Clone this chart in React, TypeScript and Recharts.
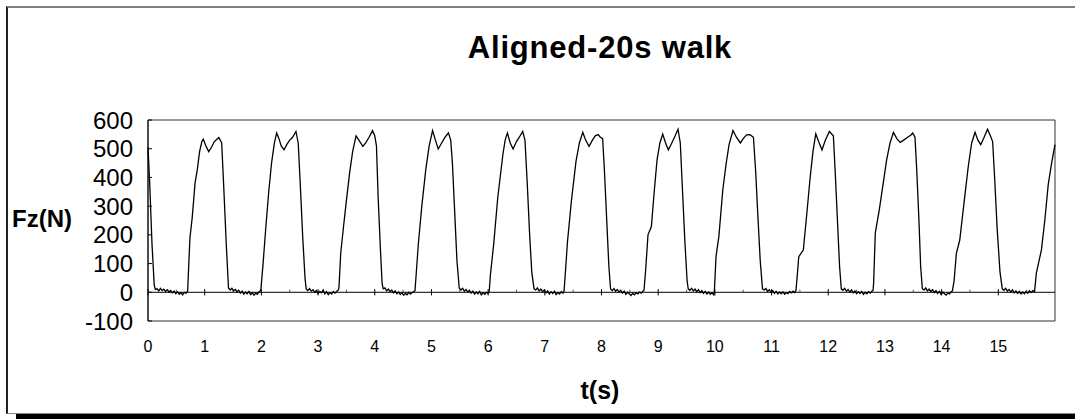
import { LineChart, Line, XAxis, YAxis, ReferenceLine, ReferenceArea } from 'recharts';

// time stamps (s)
const timeSec = [
  0.0, 0.03, 0.07, 0.11, 0.13, 0.16, 0.19, 0.22, 0.25, 0.28, 0.31, 0.34, 0.37, 0.4, 0.43, 0.46, 0.49, 0.52, 0.55, 0.58, 0.61, 0.64, 0.67, 0.7,
  0.72, 0.74, 0.78, 0.83, 0.87, 0.91, 0.95, 0.975, 1.02, 1.07, 1.12, 1.17, 1.21, 1.25, 1.3, 1.34, 1.38, 1.42,
  1.45, 1.48, 1.51, 1.54, 1.57, 1.6, 1.63, 1.66, 1.69, 1.72, 1.75, 1.78, 1.81, 1.84, 1.87, 1.9, 1.93, 1.96, 1.99,
  2.0, 2.03, 2.08, 2.13, 2.18, 2.23, 2.27, 2.31, 2.35, 2.4, 2.45, 2.5, 2.55, 2.61, 2.65, 2.69, 2.73, 2.77, 2.79,
  2.82, 2.85, 2.88, 2.91, 2.94, 2.97, 3.0, 3.03, 3.06, 3.09, 3.12, 3.15, 3.18, 3.21, 3.24, 3.27, 3.3, 3.33, 3.36,
  3.37, 3.4, 3.45, 3.5, 3.56, 3.61, 3.67, 3.72, 3.79, 3.84, 3.9, 3.96, 4.0, 4.03, 4.06, 4.1, 4.13, 4.15,
  4.18, 4.21, 4.24, 4.27, 4.3, 4.33, 4.36, 4.39, 4.42, 4.45, 4.48, 4.51, 4.54, 4.57, 4.6, 4.63, 4.66, 4.69, 4.71,
  4.73, 4.77, 4.83, 4.9, 4.96, 5.02, 5.07, 5.12, 5.18, 5.24, 5.3, 5.34, 5.37, 5.41, 5.45, 5.49,
  5.52, 5.55, 5.58, 5.61, 5.64, 5.67, 5.7, 5.73, 5.76, 5.79, 5.82, 5.85, 5.88, 5.91, 5.94, 5.97, 6.0, 6.02,
  6.04, 6.1, 6.17, 6.26, 6.3, 6.34, 6.39, 6.44, 6.5, 6.55, 6.61, 6.65, 6.69, 6.73, 6.77, 6.81,
  6.84, 6.87, 6.9, 6.93, 6.96, 6.99, 7.02, 7.05, 7.08, 7.11, 7.14, 7.17, 7.2, 7.23, 7.26, 7.29, 7.32, 7.34,
  7.36, 7.4, 7.47, 7.55, 7.61, 7.67, 7.72, 7.78, 7.84, 7.89, 7.94, 7.98, 8.02, 8.05, 8.09, 8.13, 8.16,
  8.19, 8.22, 8.25, 8.28, 8.31, 8.34, 8.37, 8.4, 8.43, 8.46, 8.49, 8.52, 8.55, 8.58, 8.61, 8.64, 8.67, 8.7, 8.73, 8.75,
  8.78, 8.82, 8.88, 8.93, 8.98, 9.03, 9.08, 9.13, 9.18, 9.24, 9.3, 9.35, 9.39, 9.43, 9.47, 9.51, 9.53,
  9.56, 9.59, 9.62, 9.65, 9.68, 9.71, 9.74, 9.77, 9.8, 9.83, 9.86, 9.89, 9.92, 9.95, 9.98, 9.99,
  10.02, 10.07, 10.14, 10.2, 10.25, 10.32, 10.38, 10.45, 10.5, 10.56, 10.62, 10.68, 10.72, 10.76, 10.8, 10.84,
  10.87, 10.9, 10.93, 10.96, 10.99, 11.02, 11.05, 11.08, 11.11, 11.14, 11.17, 11.2, 11.23, 11.26, 11.29, 11.32, 11.35, 11.38, 11.41, 11.43,
  11.45, 11.48, 11.56, 11.62, 11.68, 11.73, 11.78, 11.83, 11.89, 11.95, 12.02, 12.09, 12.12, 12.16, 12.2, 12.23,
  12.26, 12.29, 12.32, 12.35, 12.38, 12.41, 12.44, 12.47, 12.5, 12.53, 12.56, 12.59, 12.62, 12.65, 12.68, 12.71, 12.74, 12.77, 12.79,
  12.8, 12.83, 12.9, 12.97, 13.03, 13.09, 13.15, 13.21, 13.27, 13.33, 13.4, 13.46, 13.49, 13.53, 13.56, 13.6, 13.63, 13.66,
  13.69, 13.72, 13.75, 13.78, 13.81, 13.84, 13.87, 13.9, 13.93, 13.96, 13.99, 14.02, 14.05, 14.08, 14.11, 14.14, 14.17, 14.19,
  14.22, 14.26, 14.32, 14.4, 14.47, 14.53, 14.59, 14.64, 14.69, 14.75, 14.81, 14.86, 14.9, 14.94, 14.98, 15.03, 15.07,
  15.1, 15.13, 15.16, 15.19, 15.22, 15.25, 15.28, 15.31, 15.34, 15.37, 15.4, 15.43, 15.46, 15.49, 15.52, 15.55, 15.58, 15.61, 15.64,
  15.67, 15.76, 15.82, 15.88, 15.94, 16.0,
];

// vertical force (N) at those times
const forceN = [
  505, 380, 170, 25, 10, 12, 5, 14, 6, 11, 3, 9, 1, 6, -2, 4, -5, 2, -7, -1, -9, 0, -4, 5,
  100, 190, 260, 380, 427, 490, 525, 533, 510, 490, 505, 525, 532, 539, 520, 350, 170, 15,
  8, 14, 5, 10, 2, 7, -3, 4, -6, 1, -5, 3, -8, -2, -10, -3, -7, 2, 6,
  30, 100, 230, 350, 451, 520, 555, 535, 510, 496, 515, 530, 540, 560, 520, 360, 190, 50, 12,
  6, 13, 4, 9, 0, 6, -4, 3, -2, 8, -5, 2, -8, -1, -6, 3, -3, 4, 8,
  20, 137, 230, 320, 421, 490, 545, 530, 508, 520, 540, 563, 545, 510, 330, 150, 30, 12,
  15, 5, 11, 2, 8, -2, 5, -5, 1, -8, -2, -10, -4, -9, 0, -6, -1, 3, 6,
  60, 171, 300, 427, 510, 563, 530, 499, 520, 540, 555, 530, 450, 280, 110, 15,
  8, 14, 4, 10, 1, 7, -3, 4, -6, 1, -5, 3, -9, -2, -7, 0, -4, 4,
  60, 171, 330, 479, 530, 555, 520, 499, 525, 540, 560, 530, 380, 210, 70, 12,
  8, 15, 5, 11, 2, 8, -2, 5, -6, 2, -4, 4, -8, -1, -6, 2, -3, 5,
  60, 177, 320, 456, 520, 557, 530, 508, 530, 545, 549, 540, 535, 430, 260, 90, 12,
  6, 13, 4, 10, 1, 7, -3, 4, -7, 0, -5, -11, -4, -9, -2, -6, 1, -3, 4, 7,
  80, 200, 229, 350, 461, 520, 551, 520, 496, 520, 545, 568, 520, 350, 180, 40, 12,
  7, 14, 5, 11, 2, 9, -1, 6, -4, 3, -6, 1, -7, -2, -9, 0,
  124, 194, 357, 450, 514, 563, 540, 520, 535, 548, 549, 540, 420, 260, 110, 12,
  8, 13, 3, 9, 0, 6, -4, 3, -6, 1, -5, 2, -7, -1, -5, 3, -2, 4, -1, 6,
  50, 124, 147, 270, 398, 490, 552, 525, 496, 530, 560, 545, 430, 260, 90, 12,
  7, 14, 4, 10, 1, 8, -2, 5, -5, 2, -4, 3, -7, 0, -5, 2, -3, 4, 6,
  30, 207, 287, 380, 461, 520, 557, 535, 522, 530, 540, 548, 555, 540, 430, 250, 90, 12,
  8, 15, 5, 11, 2, 9, -1, 6, -4, 3, -7, 1, -5, -10, -3, -6, 2, 5,
  40, 136, 182, 320, 438, 520, 557, 530, 514, 540, 568, 545, 525, 380, 220, 70, 12,
  7, 14, 4, 10, 1, 8, -2, 5, -4, 3, -6, 1, -5, 3, -3, 5, -1, 6, 3,
  66, 147, 250, 374, 450, 514,
];

const xTicks = [0, 1, 2, 3, 4, 5, 6, 7, 8, 9, 10, 11, 12, 13, 14, 15];
const xMinorTicks = [0.5, 1.5, 2.5, 3.5, 4.5, 5.5, 6.5, 7.5, 8.5, 9.5, 10.5, 11.5, 12.5, 13.5, 14.5, 15.5];
const yTicks = [-100, 0, 100, 200, 300, 400, 500, 600];

const data = timeSec.map((t, i) => ({ t, fz: forceN[i] }));

const FONT = '"Liberation Sans", Arial, sans-serif';

export default function App() {
  return (
    <div style={{ position: 'absolute', left: 0, top: 0, width: 1075, height: 419, background: '#fff', overflow: 'hidden', fontFamily: FONT }}>
      {/* outer frame + drop shadow */}
      <div
        style={{
          position: 'absolute', left: 6, top: 6, width: 1080, height: 408, boxSizing: 'border-box',
          borderTop: '2px solid #808080', borderLeft: '2px solid #222', borderBottom: '1px solid #888',
        }}
      />
      <div style={{ position: 'absolute', left: 16, top: 414, width: 1059, height: 5, background: '#000' }} />

      <div style={{ position: 'absolute', left: 0, top: 30, width: 1200, textAlign: 'center', fontSize: 31, fontWeight: 'bold', letterSpacing: 0.8, lineHeight: '36px' }}>
        Aligned-20s walk
      </div>
      <div style={{ position: 'absolute', left: 12, top: 204, fontSize: 24, fontWeight: 'bold', lineHeight: '30px' }}>Fz(N)</div>
      <div style={{ position: 'absolute', left: 0, top: 375, width: 1200, textAlign: 'center', fontSize: 25, fontWeight: 'bold', lineHeight: '30px' }}>
        t(s)
      </div>

      <div style={{ position: 'absolute', left: 0, top: 0 }}>
        <LineChart width={1075} height={419} data={data} margin={{ top: 120, right: 20, bottom: 0, left: 0 }}>
          <ReferenceArea x1={0} x2={16} y1={-100} y2={600} fill="none" stroke="#333" strokeWidth={1} ifOverflow="visible" />
          <XAxis
            dataKey="t"
            type="number"
            domain={[0, 16]}
            ticks={xTicks}
            height={98}
            axisLine={false}
            tickLine={false}
            tickSize={0}
            tickMargin={20}
            interval={0}
            tick={{ fill: '#000', fontSize: 16, fontFamily: FONT }}
          />
          <YAxis
            type="number"
            domain={[-100, 600]}
            ticks={yTicks}
            width={148}
            axisLine={{ stroke: '#000' }}
            tickLine={false}
            tickSize={0}
            tickMargin={15}
            interval={0}
            tick={{ fill: '#000', fontSize: 24, fontFamily: FONT }}
          />
          <ReferenceLine y={0} stroke="#000" strokeWidth={1} />
          {yTicks.map((v) => (
            <ReferenceLine key={'y' + v} segment={[{ x: 0, y: v }, { x: 0.07, y: v }]} stroke="#000" />
          ))}
          {xTicks.map((v) => (
            <ReferenceLine key={'x' + v} segment={[{ x: v, y: -11 }, { x: v, y: 11 }]} stroke="#000" />
          ))}
          {xMinorTicks.map((v) => (
            <ReferenceLine key={'m' + v} segment={[{ x: v, y: 0 }, { x: v, y: 9 }]} stroke="#555" />
          ))}
          <Line type="linear" dataKey="fz" stroke="#000" strokeWidth={1.3} dot={false} isAnimationActive={false} />
        </LineChart>
      </div>
    </div>
  );
}
